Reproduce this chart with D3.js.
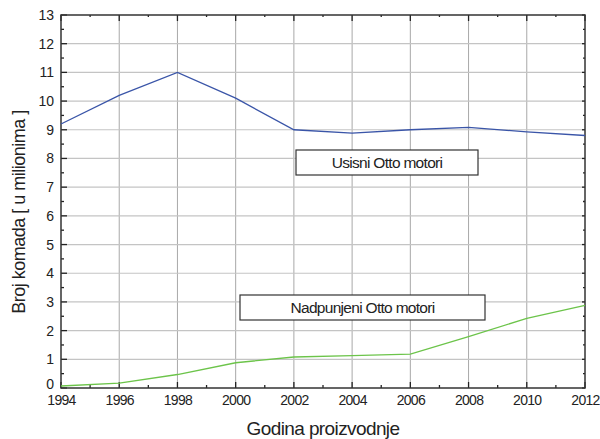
<!DOCTYPE html>
<html><head><meta charset="utf-8">
<script src="https://cdn.jsdelivr.net/npm/d3@7"></script>
<style>body{margin:0;background:#fff}svg text{font-family:"Liberation Sans",Arial,sans-serif;fill:#222}</style>
</head><body><svg id="c" width="600" height="439"></svg>
<script>
const years = [1994,1996,1998,2000,2002,2004,2006,2008,2010,2012];
const usisni = [9.2,10.2,11.0,10.1,9.0,8.88,9.0,9.08,8.93,8.8];
const nadpunjeni = [0.07,0.17,0.47,0.88,1.08,1.13,1.18,1.79,2.43,2.88];
const yTicks = d3.range(0,14);
const xLabel = "Godina proizvodnje";
const yLabel = "Broj komada [ u milionima ]";
const lblUsisni = "Usisni Otto motori";
const lblNad = "Nadpunjeni Otto motori";

const svg = d3.select("#c");
const L=61,R=585,T=15,B=388;
const x = d3.scaleLinear().domain([1994,2012]).range([L,R]);
const y = d3.scaleLinear().domain([0,13]).range([B,T]);
const g = svg.append("g");

// grid
g.selectAll(".vg").data(years.slice(1,-1)).enter().append("line")
 .attr("x1",d=>x(d)).attr("x2",d=>x(d)).attr("y1",T).attr("y2",B)
 .attr("stroke","#a8a8a8").attr("stroke-width",1);
g.selectAll(".hg").data(yTicks.slice(1,-1)).enter().append("line")
 .attr("y1",d=>y(d)).attr("y2",d=>y(d)).attr("x1",L).attr("x2",R)
 .attr("stroke","#c4c4c4").attr("stroke-width",1.2);

// ticks inward on all sides
const minorX = d3.range(1995,2012,2), minorY = d3.range(0.5,13,1);
function tickLines(vals, len, side){
  vals.forEach(v=>{
    if(side==="b") g.append("line").attr("x1",x(v)).attr("x2",x(v)).attr("y1",B).attr("y2",B-len);
    if(side==="t") g.append("line").attr("x1",x(v)).attr("x2",x(v)).attr("y1",T).attr("y2",T+len);
    if(side==="l") g.append("line").attr("y1",y(v)).attr("y2",y(v)).attr("x1",L).attr("x2",L+len);
    if(side==="r") g.append("line").attr("y1",y(v)).attr("y2",y(v)).attr("x1",R).attr("x2",R-len);
  });
}
tickLines(years,6,"b");tickLines(years,6,"t");tickLines(minorX,3,"b");tickLines(minorX,2,"t");
tickLines(yTicks,6,"l");tickLines(yTicks,3,"r");tickLines(minorY,3,"l");tickLines(minorY,2,"r");
g.selectAll("line").filter(function(){return !d3.select(this).attr("stroke");}).attr("stroke","#222").attr("stroke-width",1.3);

// frame
g.append("rect").attr("x",L).attr("y",T).attr("width",R-L).attr("height",B-T)
 .attr("fill","none").attr("stroke","#333").attr("stroke-width",1.5);

// axes labels
const ax = d3.axisBottom(x).tickValues(years).tickFormat(d3.format("d")).tickSize(0).tickPadding(7);
const axg = svg.append("g").attr("transform",`translate(0,${B})`).call(ax);
axg.select(".domain").remove();
axg.selectAll("text").attr("font-size",14).attr("letter-spacing","-0.7").attr("fill","#222");
const ay = d3.axisLeft(y).tickValues(yTicks).tickSize(0).tickPadding(7);
const ayg = svg.append("g").attr("transform",`translate(${L},0)`).call(ay);
ayg.select(".domain").remove();
ayg.selectAll("text").attr("font-size",14).attr("fill","#222");
ayg.selectAll(".tick").filter(d=>d===0).select("text").attr("dy","0.05em");

svg.append("text").attr("x",323).attr("y",435).attr("text-anchor","middle")
 .attr("font-size",19).attr("letter-spacing","-0.6").text(xLabel);
svg.append("text").attr("transform","translate(25,212) rotate(-90)").attr("text-anchor","middle")
 .attr("font-size",18).attr("letter-spacing","-0.5").text(yLabel);

// lines
const line = d3.line().x((d,i)=>x(years[i])).y(d=>y(d));
svg.append("path").datum(usisni).attr("d",line).attr("fill","none").attr("stroke","#3a55a8").attr("stroke-width",1.3);
svg.append("path").datum(nadpunjeni).attr("d",line).attr("fill","none").attr("stroke","#6cc44a").attr("stroke-width",1.3);

// label boxes
function box(x0,y0,w,h,t){
  svg.append("rect").attr("x",x0).attr("y",y0).attr("width",w).attr("height",h)
   .attr("fill","#fff").attr("stroke","#333").attr("stroke-width",1.2);
  svg.append("text").attr("x",x0+w/2).attr("y",y0+h/2+5.5).attr("text-anchor","middle")
   .attr("font-size",15.5).attr("letter-spacing","-0.7").text(t);
}
box(296,150,182,25,lblUsisni);
box(240,295,245,25,lblNad);
</script></body></html>
